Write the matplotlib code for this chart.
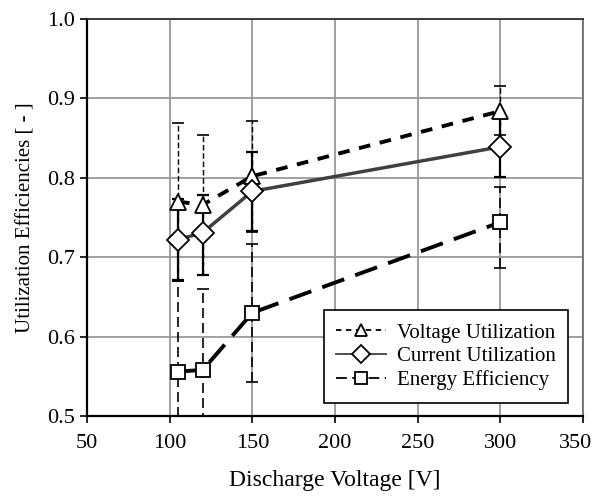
import matplotlib
matplotlib.use("Agg")
import matplotlib.pyplot as plt
from matplotlib.transforms import offset_copy

plt.rcParams['font.family'] = ['Liberation Serif', 'DejaVu Serif']

# discharge voltage [V]
voltage = [105, 120, 150, 300]

# voltage utilization
volt_util = [0.770, 0.766, 0.802, 0.884]
volt_err_lo = [0.100, 0.089, 0.070, 0.030]
volt_err_hi = [0.099, 0.088, 0.070, 0.031]

# current utilization
curr_util = [0.722, 0.731, 0.783, 0.839]
curr_err_lo = [0.051, 0.054, 0.050, 0.038]
curr_err_hi = [0.051, 0.047, 0.050, 0.038]

# energy efficiency
energy_eff = [0.556, 0.558, 0.630, 0.744]
energy_err_lo = [0.114, 0.104, 0.087, 0.057]
energy_err_hi = [0.114, 0.102, 0.086, 0.045]

xticks = [50, 100, 150, 200, 250, 300, 350]
yticks = [0.5, 0.6, 0.7, 0.8, 0.9, 1.0]

fig = plt.figure(figsize=(5.94, 4.96), dpi=100)
ax = fig.add_axes([87/594, 1-416/496, (583-87)/594, (416-19)/496])

# error bars first (drawn below the lines)
eb = ax.errorbar(voltage, volt_util, yerr=[volt_err_lo, volt_err_hi], fmt='none',
                 ecolor='black', elinewidth=1.0, capsize=4, capthick=1.2, zorder=3)
eb[2][0].set_linestyle((0, (4, 2)))
ax.errorbar(voltage, curr_util, yerr=[curr_err_lo, curr_err_hi], fmt='none',
            ecolor='black', elinewidth=1.6, capsize=4, capthick=1.6, zorder=3)
eb = ax.errorbar(voltage, energy_eff, yerr=[energy_err_lo, energy_err_hi], fmt='none',
                 ecolor='black', elinewidth=1.2, capsize=4, capthick=1.2, zorder=3)
eb[2][0].set_linestyle((0, (6, 3)))

ax.plot(voltage, volt_util, color='black', lw=2.8, linestyle=(0, (3, 2.5)),
        marker='^', markersize=12, markerfacecolor='white', markeredgecolor='black',
        markeredgewidth=1.3, label='Voltage Utilization', zorder=4)
ax.plot(voltage, curr_util, color='#404040', lw=2.5, linestyle='-',
        marker='D', markersize=11, markerfacecolor='white', markeredgecolor='black',
        markeredgewidth=1.3, label='Current Utilization', zorder=4)
ax.plot(voltage, energy_eff, color='black', lw=2.8, linestyle=(0, (6, 3)),
        marker='s', markersize=10, markerfacecolor='white', markeredgecolor='black',
        markeredgewidth=1.3, label='Energy Efficiency', zorder=4)

ax.set_xlim(50, 350)
ax.set_ylim(0.5, 1.0)
ax.set_xticks(xticks)
ax.set_yticks(yticks)
ax.set_yticklabels(['%.1f' % v for v in yticks])
ax.grid(True, color='#999999', lw=1.3, zorder=0)
ax.set_axisbelow(True)

for s in ['left', 'bottom']:
    ax.spines[s].set_color('black')
    ax.spines[s].set_linewidth(1.6)
ax.spines['right'].set_color('#707070')
ax.spines['right'].set_linewidth(1.3)
ax.spines['top'].set_color('#303030')
ax.spines['top'].set_linewidth(1.3)

ax.tick_params(axis='both', labelsize=16, direction='out', length=5, width=1.2)
ax.tick_params(axis='x', pad=8)
ax.tick_params(axis='y', pad=4)

# last x label sits slightly inside the figure
last = ax.get_xticklabels()[-1]
last.set_transform(offset_copy(last.get_transform(), fig=fig, x=-7, y=0, units='dots'))

ax.set_xlabel('Discharge Voltage [V]', fontsize=17, labelpad=12)
ax.set_ylabel('Utilization Efficiencies [ - ]', fontsize=15, labelpad=8)

leg = ax.legend(loc='lower right', bbox_to_anchor=(0.97, 0.033), fontsize=15,
                handlelength=2.4, frameon=True, fancybox=False, framealpha=1,
                borderpad=0.6, labelspacing=0.2, handletextpad=0.5, borderaxespad=0)
leg.get_frame().set_edgecolor('black')
leg.get_frame().set_linewidth(1.2)
for h in leg.legend_handles:
    h.set_linewidth(1.3)
    h.set_markersize(9)

fig.savefig('out.png', dpi=100)
